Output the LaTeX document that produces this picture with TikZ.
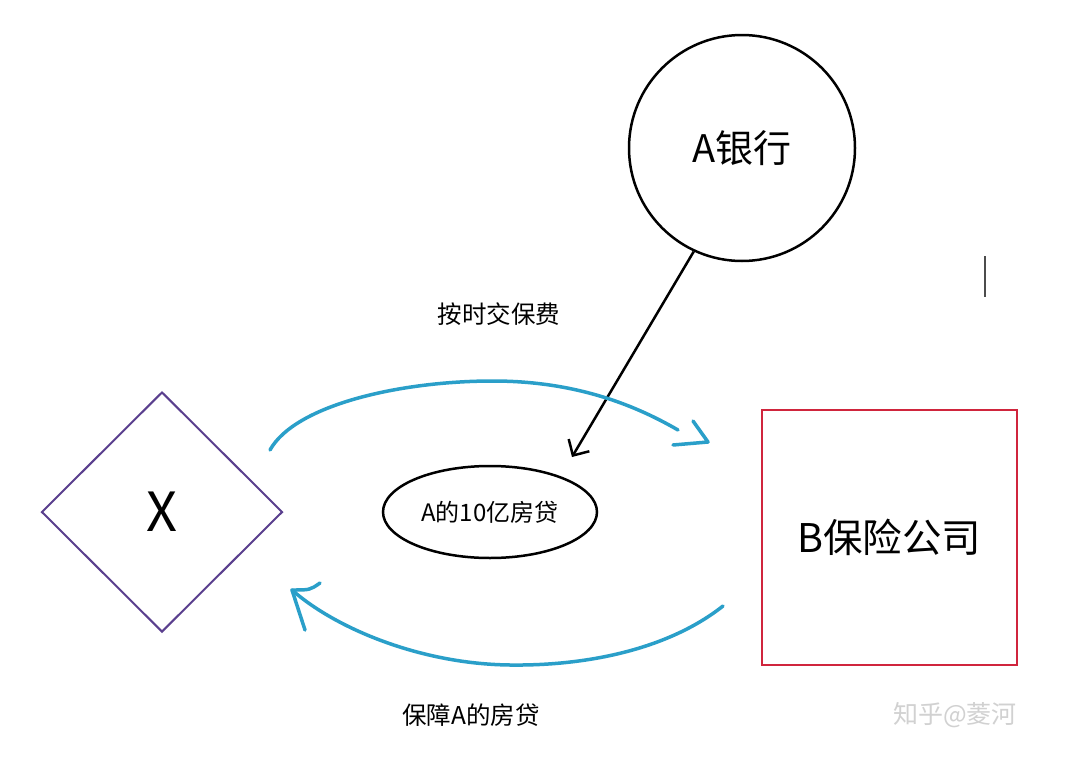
\documentclass[tikz,border=0pt]{standalone}
\usepackage{fontspec}
\setmainfont{Noto Sans CJK SC}
\usetikzlibrary{shapes.geometric,arrows.meta}
\definecolor{bluearc}{HTML}{2A9FC9}
\definecolor{diapurple}{HTML}{5A3F8E}
\definecolor{boxred}{HTML}{D0253D}
\tikzset{
  bank/.style={circle,draw=black,line width=2.5pt,minimum size=226pt,inner sep=0pt,font=\fontsize{38}{40}\selectfont},
  xdia/.style={diamond,draw=diapurple,line width=2pt,minimum width=241pt,minimum height=240pt,inner sep=0pt,font=\fontsize{54}{56}\selectfont},
  insbox/.style={rectangle,draw=boxred,line width=2.5pt,minimum width=255pt,minimum height=255pt,inner sep=0pt,font=\fontsize{39.5}{41}\selectfont},
  loan/.style={ellipse,draw=black,line width=2.5pt,minimum width=214pt,minimum height=92pt,inner sep=0pt,font=\fontsize{24}{26}\selectfont},
  lbl/.style={font=\fontsize{24.5}{26}\selectfont},
  flow/.style={draw=bluearc,line width=3.5pt,line cap=round,line join=round},
  blk/.style={draw=black,line width=2.5pt,-{Straight Barb[length=12pt,width=24pt,line width=2.5pt]}},
  wm/.style={text=black!18,font=\fontsize{25}{27}\selectfont}
}
\begin{document}
\begin{tikzpicture}[x=1pt,y=-1pt]
\path[fill=white,use as bounding box] (0,0) rectangle (1080,758);
\node[bank] (A) at (742,148) {A银行};
\node[xdia] (X) at (162,512) {X};
\node[insbox] (B) at (889.5,537.5) {B保险公司};
\node[loan] (L) at (490,512) {A的10亿房贷};
\node[lbl] (t1) at (499,314) {按时交保费};
\node[lbl] (t2) at (471,715) {保障A的房贷};
\node[wm] (w) at (955,715) {知乎@菱河};
% small vertical mark
\coordinate (m1) at (985,256);
\coordinate (m2) at (985,297);
\draw[black!70,line width=1.5pt] (m1) -- (m2);
% bank to loan arrow
\coordinate (tipL) at (572,457);
\draw[blk] (A.245) -- (tipL);
% top blue arc: X -> B
\coordinate (s1) at (270,450);
\coordinate (p1) at (493,381);
\coordinate (e1) at (678,430);
\coordinate (h1) at (708,442);
\coordinate (b1a) at (693,421);
\coordinate (b1b) at (673,445);
\draw[flow] (s1) .. controls (295,405) and (400,381) .. (p1)
                 .. controls (580,381) and (640,408) .. (e1);
\draw[flow] (b1a) -- (h1) -- (b1b);
% bottom blue arc: B -> X
\coordinate (s2) at (723,606);
\coordinate (p2) at (510,665);
\coordinate (h2) at (292,590);
\coordinate (b2a) at (320,583);
\coordinate (b2b) at (305,630);
\draw[flow] (s2) .. controls (670,648) and (590,666) .. (p2)
                 .. controls (420,664) and (335,628) .. (h2);
\draw[flow] (b2a) .. controls (310,590) .. (h2) -- (b2b);
\end{tikzpicture}
\end{document}
